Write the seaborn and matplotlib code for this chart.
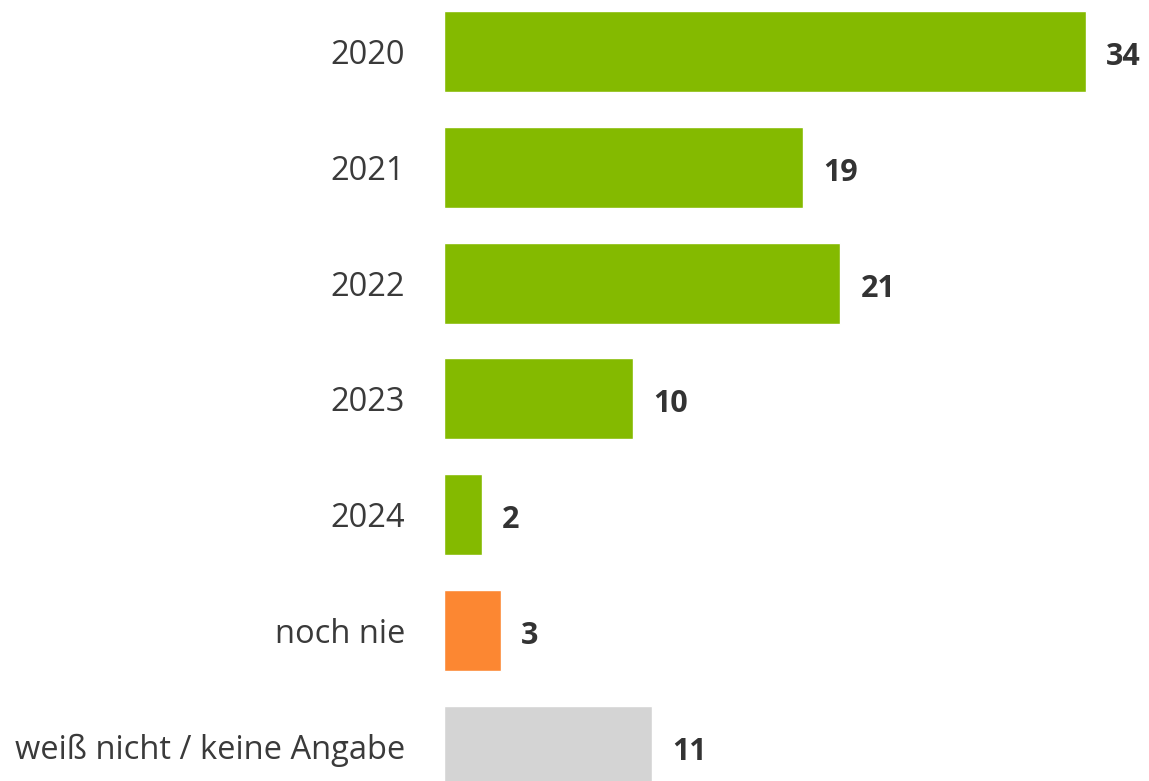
import pandas as pd
import seaborn as sns
import matplotlib.pyplot as plt

# Data
categories = ["2020", "2021", "2022", "2023", "2024", "noch nie", "weiß nicht / keine Angabe"]
values = [34, 19, 21, 10, 2, 3, 11]
groups = ["jahr", "jahr", "jahr", "jahr", "jahr", "nie", "wn"]
palette = {"jahr": "#84BA00", "nie": "#FC8732", "wn": "#D4D4D4"}

df = pd.DataFrame({"kategorie": categories, "wert": values, "gruppe": groups})

sns.set_theme(style="white")
plt.rcParams["font.family"] = ["Open Sans", "DejaVu Sans"]

fig = plt.figure(figsize=(11.49, 7.81), dpi=100)
ax = fig.add_axes([444 / 1149, 0, 1 - 444 / 1149, 1])

sns.barplot(data=df, y="kategorie", x="wert", hue="gruppe", palette=palette,
            dodge=False, legend=False, width=0.7, saturation=1, ax=ax)

ax.set_xlim(0, 37.34)
ax.set_ylim(6.30, -0.445)
ax.set_xlabel("")
ax.set_ylabel("")
ax.set_xticks([])
ax.tick_params(axis="y", length=0, pad=28, labelsize=23.5, labelcolor="#3a3a3a")
for lbl in ax.get_yticklabels():
    lbl.set_fontweight(500)
sns.despine(ax=ax, left=True, bottom=True, top=True, right=True)

# Value labels
for i, v in enumerate(values):
    ax.annotate(str(v), xy=(v, i), xytext=(14.5, -4), textcoords="offset points",
                ha="left", va="center", fontsize=22, fontweight="bold", color="#333333")

fig.savefig("out.png", dpi=100)
